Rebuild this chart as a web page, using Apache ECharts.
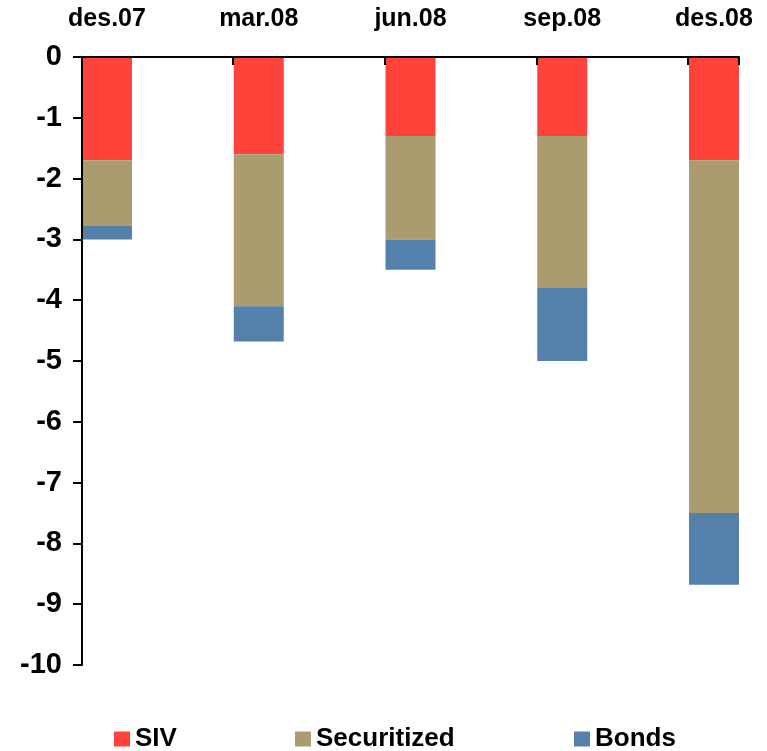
<!DOCTYPE html>
<html>
<head>
<meta charset="utf-8">
<script src="https://cdn.jsdelivr.net/npm/echarts@6/dist/echarts.min.js"></script>
<style>
html, body { margin: 0; padding: 0; background: #fff; }
#chart { width: 767px; height: 751px; }
</style>
</head>
<body>
<div id="chart"></div>
<script>
// quarters and the three components (negative = decline)
var categories = ['des.07', 'mar.08', 'jun.08', 'sep.08', 'des.08'];
var sivValues = [-1.7, -1.6, -1.3, -1.3, -1.7];
var securitizedValues = [-1.08, -2.5, -1.7, -2.5, -5.8];
var bondsValues = [-0.22, -0.58, -0.5, -1.2, -1.18];
var seriesNames = ['SIV', 'Securitized', 'Bonds'];
var seriesColors = ['#FF433A', '#AA9C6F', '#5381AC'];

var font = 'Liberation Sans, Arial, sans-serif';

var chart = echarts.init(document.getElementById('chart'));

// bars live in grid 1 (category points at the bar centres),
// grid 0 only draws the frame: y axis + top line with ticks at the bars' left edges
var series = [sivValues, securitizedValues, bondsValues].map(function (vals, k) {
    return {
        name: seriesNames[k],
        type: 'bar',
        stack: 'total',
        xAxisIndex: 1,
        yAxisIndex: 1,
        barWidth: 50,
        clip: false,
        itemStyle: { color: seriesColors[k] },
        data: vals
    };
});

function legendAt(name, left) {
    return {
        data: [name],
        left: left,
        top: 726,
        padding: 0,
        icon: 'rect',
        itemWidth: 16,
        itemHeight: 15,
        selectedMode: false,
        textStyle: { fontFamily: font, fontWeight: 'bold', fontSize: 26, color: '#000' }
    };
}

var option = {
    backgroundColor: '#fff',
    animation: false,
    grid: [
        { left: 82, top: 57, width: 657, height: 608 },
        { left: 107, top: 57, width: 607, height: 608 }
    ],
    legend: [
        legendAt('SIV', 114),
        legendAt('Securitized', 295),
        legendAt('Bonds', 574)
    ],
    xAxis: [
        {
            type: 'value',
            gridIndex: 0,
            position: 'top',
            min: -0.165,
            max: 4.165,
            interval: 1,
            z: 5,
            axisLine: { show: true, onZero: false, lineStyle: { color: '#000', width: 2 } },
            axisTick: { show: true, inside: true, length: 8, lineStyle: { color: '#000', width: 2 } },
            axisLabel: { show: false },
            splitLine: { show: false }
        },
        {
            type: 'category',
            gridIndex: 1,
            position: 'top',
            boundaryGap: false,
            data: categories,
            axisLine: { show: false },
            axisTick: { show: false },
            axisLabel: { fontFamily: font, fontWeight: 'bold', fontSize: 25, color: '#000', margin: 25 }
        }
    ],
    yAxis: [
        {
            type: 'value',
            gridIndex: 0,
            min: -10,
            max: 0,
            interval: 1,
            z: 5,
            axisLine: { show: true, onZero: false, lineStyle: { color: '#000', width: 2 } },
            axisTick: { show: true, length: 9, lineStyle: { color: '#000', width: 2 } },
            axisLabel: { fontFamily: font, fontWeight: 'bold', fontSize: 29, color: '#000', margin: 20 },
            splitLine: { show: false }
        },
        {
            type: 'value',
            gridIndex: 1,
            min: -10,
            max: 0,
            show: false
        }
    ],
    series: series
};

chart.setOption(option);
</script>
</body>
</html>
